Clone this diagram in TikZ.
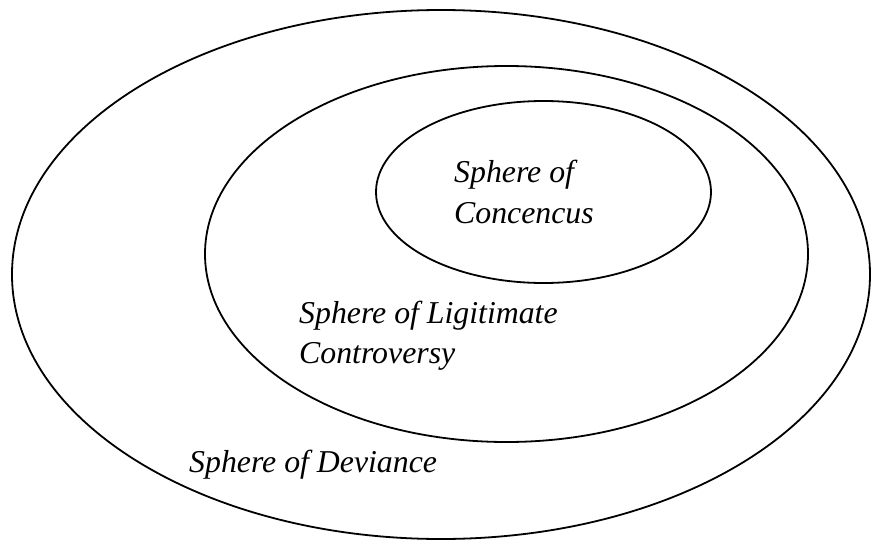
\documentclass[tikz,border=0pt]{standalone}
\usepackage{fontspec}
\setmainfont{Liberation Serif}
\usetikzlibrary{shapes.geometric}
\begin{document}
\begin{tikzpicture}[x=1pt,y=-1pt,
  sphere/.style={draw=black, line width=1.8pt, ellipse, inner sep=0pt},
  lbl/.style={anchor=base west, inner sep=0pt, font=\fontsize{31.8}{40}\selectfont\itshape}]
\useasboundingbox (0,0) rectangle (871,541);
\node[sphere, minimum width=858pt, minimum height=529pt] (dev) at (441,274.5) {};
\node[sphere, minimum width=603pt, minimum height=376pt] (leg) at (506.5,254) {};
\node[sphere, minimum width=335pt, minimum height=182pt] (con) at (543.5,192) {};
\node[lbl] (con1) at (454,182) {Sphere of};
\node[lbl] (con2) at (454,223) {Concencus};
\node[lbl] (leg1) at (299,323) {Sphere of Ligitimate};
\node[lbl] (leg2) at (299,363) {Controversy};
\node[lbl] (dev1) at (189,472) {Sphere of Deviance};
\end{tikzpicture}
\end{document}
